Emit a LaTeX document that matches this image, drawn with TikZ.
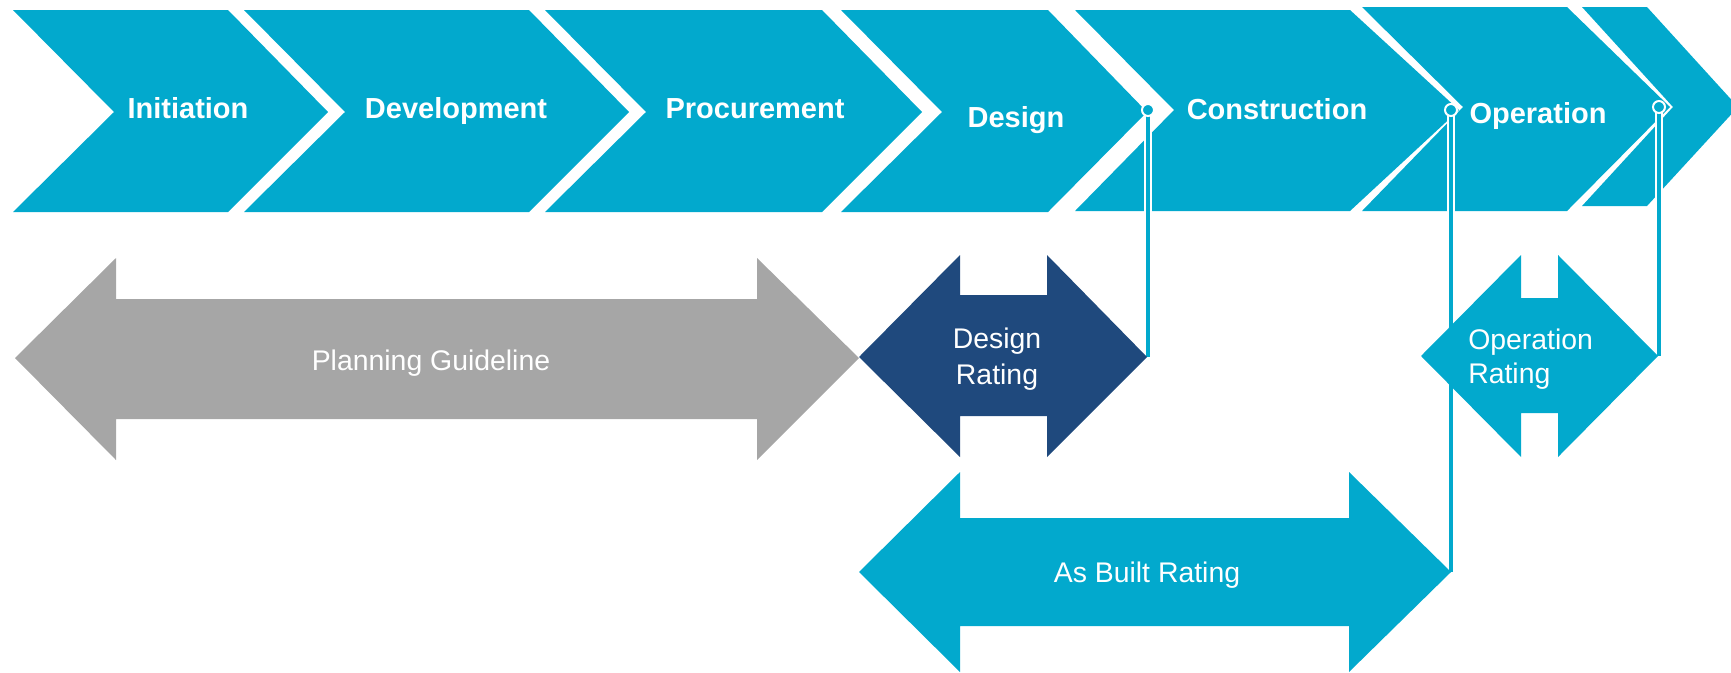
\documentclass[tikz,border=0pt]{standalone}
\usepackage{fontspec}
\setmainfont{Liberation Sans}
\definecolor{cy}{HTML}{02A9CD}
\definecolor{db}{HTML}{1F497D}
\definecolor{gr}{HTML}{A6A6A6}
\tikzset{
  chevlabel/.style={text=white,font=\fontsize{21.75}{26}\selectfont\bfseries,anchor=base,inner sep=0pt},
  ratelabel/.style={text=white,font=\fontsize{21.3}{25.5}\selectfont,anchor=base,inner sep=0pt},
  link/.style={draw=cy,line width=3pt,preaction={draw=white,line width=5.5pt}},
  linkdot/.style={fill=cy,draw=white,line width=1.5pt}
}
\newcommand\mychev[7]{\fill[cy] (#1,#5) -- (#3,#5) -- (#4,#7) -- (#3,#6) -- (#1,#6) -- (#2,#7) -- cycle;}
\begin{document}
\begin{tikzpicture}[x=0.75pt,y=-0.75pt]
\useasboundingbox (0,0) rectangle (1731,672);
% phase chevrons
\mychev{13}{114}{228}{328}{10}{212}{112}
\mychev{244}{345}{529}{629}{10}{212}{112}
\mychev{545}{646}{822}{922}{10}{212}{112}
\mychev{841}{942}{1048}{1147}{10}{212}{112}
\mychev{1075}{1174}{1350}{1459}{10}{211}{110}
\mychev{1362}{1463}{1567}{1670}{7}{211}{107}
\mychev{1582}{1673}{1647}{1738}{7}{206}{107}
% connector end points
\coordinate (dP) at (1148,110);
\coordinate (dT) at (1148,357);
\coordinate (cP) at (1451,110);
\coordinate (aT) at (1451,572);
\coordinate (oP) at (1659,107);
\coordinate (oT) at (1659,356);
\draw[link] (dP) -- (dT);
\draw[link] (cP) -- (aT);
\draw[link] (oP) -- (oT);
\path[linkdot] (dP) circle[radius=4.5pt];
\path[linkdot] (cP) circle[radius=4.5pt];
\path[linkdot] (oP) circle[radius=4.5pt];
% rating arrows
\fill[gr] (15,358) -- (116,258) -- (116,299) -- (757,299) -- (757,258) -- (859,358) -- (757,460) -- (757,419) -- (116,419) -- (116,460) -- cycle;
\fill[db] (859,357) -- (960,255) -- (960,295) -- (1047,295) -- (1047,255) -- (1147,357) -- (1047,457) -- (1047,416) -- (960,416) -- (960,457) -- cycle;
\fill[cy] (1421,356) -- (1521,255) -- (1521,298) -- (1558,298) -- (1558,255) -- (1658,356) -- (1558,457) -- (1558,413) -- (1521,413) -- (1521,457) -- cycle;
\fill[cy] (859,572) -- (960,472) -- (960,518) -- (1349,518) -- (1349,472) -- (1451,572) -- (1349,672) -- (1349,626) -- (960,626) -- (960,672) -- cycle;
% labels
\node[chevlabel] (tInit) at (188,118) {Initiation};
\node[chevlabel] (tDev) at (456,118) {Development};
\node[chevlabel] (tProc) at (755,118) {Procurement};
\node[chevlabel] (tDes) at (1016,127) {Design};
\node[chevlabel] (tCon) at (1277,119) {Construction};
\node[chevlabel] (tOp) at (1538,123) {Operation};
\node[ratelabel] (tPlan) at (431,370) {Planning Guideline};
\node[ratelabel] (tDR1) at (997,348) {Design};
\node[ratelabel] (tDR2) at (997,384) {Rating};
\node[ratelabel,anchor=base west] (tOR1) at (1468,349) {Operation};
\node[ratelabel,anchor=base west] (tOR2) at (1468,383) {Rating};
\node[ratelabel] (tAB) at (1147,582) {As Built Rating};
\end{tikzpicture}
\end{document}
